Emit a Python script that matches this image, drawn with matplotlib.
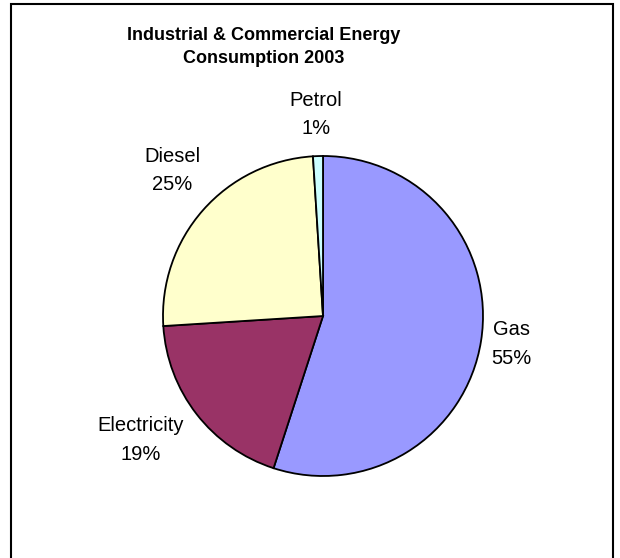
import numpy as np
import matplotlib.pyplot as plt
from matplotlib.patches import Rectangle

plt.rcParams["font.family"] = ["Liberation Sans", "DejaVu Sans"]

# Energy use by fuel, 2003 (percent)
fuels = ["Gas", "Electricity", "Diesel", "Petrol"]
shares = [55, 19, 25, 1]
colors = ["#9999FF", "#993366", "#FFFFCC", "#CCFFFF"]
title = "Industrial & Commercial Energy\nConsumption 2003"

# label placement: distance from centre (pie radii), angle nudge (degrees)
label_dist = [1.19, 1.38, 1.31, 1.26]
label_nudge = [0.5, -3.6, -2.6, 0.2]

W, H = 620, 558
fig = plt.figure(figsize=(W / 100, H / 100), dpi=100)
ax = fig.add_axes([0, 0, 1, 1])

cx, cy, r = 323, H - 316, 160
wedges, _ = ax.pie(
    shares,
    colors=colors,
    startangle=90,
    counterclock=False,
    center=(cx, cy),
    radius=r,
    frame=True,
    wedgeprops=dict(edgecolor="black", linewidth=1.3),
)
ax.set_xlim(0, W)
ax.set_ylim(0, H)
ax.set_aspect("equal")
ax.axis("off")

for w, name, val, d, nd in zip(wedges, fuels, shares, label_dist, label_nudge):
    mid = np.deg2rad((w.theta1 + w.theta2) / 2 + nd)
    ax.text(cx + d * r * np.cos(mid), cy + d * r * np.sin(mid),
            f"{name}\n{val}%", ha="center", va="center",
            fontsize=14.5, linespacing=1.65)

ax.text(264, H - 47, title, ha="center", va="center",
        fontsize=13, fontweight="bold", linespacing=1.4)

# chart border
ax.add_patch(Rectangle((11, -10), 602, H - 4 + 10, fill=False,
                       edgecolor="black", linewidth=1.5, clip_on=False))

fig.savefig("out.png", dpi=100)
